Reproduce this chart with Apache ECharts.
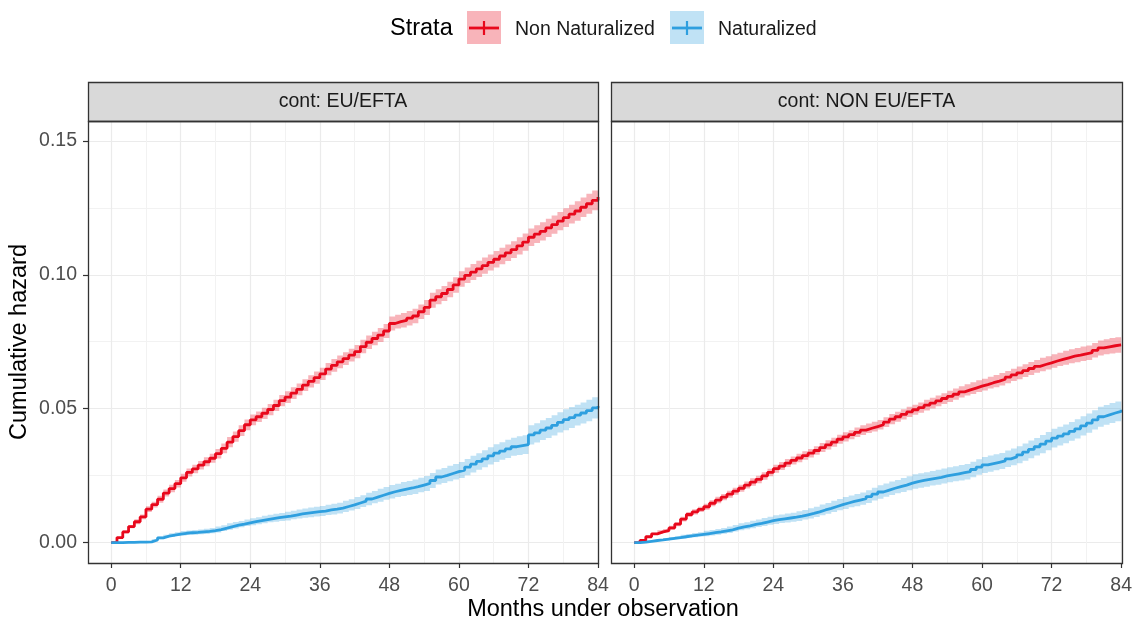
<!DOCTYPE html>
<html>
<head>
<meta charset="utf-8">
<script src="https://cdn.jsdelivr.net/npm/echarts@6/dist/echarts.min.js"></script>
<style>
  html, body { margin: 0; padding: 0; background: #ffffff; }
  #chart { width: 1135px; height: 621px; }
</style>
</head>
<body>
<div id="chart"></div>
<script>
// ---------------- DATA ----------------
const panels = ['cont: EU/EFTA', 'cont: NON EU/EFTA'];
const strata = ['Non Naturalized', 'Naturalized'];
const xTicks = [0, 12, 24, 36, 48, 60, 72, 84];
const xMinorTicks = [6, 18, 30, 42, 54, 66, 78];
const yTicks = [0, 0.05, 0.10, 0.15];
const yTickLabels = ['0.00', '0.05', '0.10', '0.15'];
const yMinorTicks = [0.025, 0.075, 0.125];

// months 0..84 (one value per month)
const months = [0, 1, 2, 3, 4, 5, 6, 7, 8, 9, 10, 11, 12, 13, 14, 15, 16, 17, 18, 19, 20, 21, 22, 23, 24,
  25, 26, 27, 28, 29, 30, 31, 32, 33, 34, 35, 36, 37, 38, 39, 40, 41, 42, 43, 44, 45, 46, 47, 48, 49, 50,
  51, 52, 53, 54, 55, 56, 57, 58, 59, 60, 61, 62, 63, 64, 65, 66, 67, 68, 69, 70, 71, 72, 73, 74, 75, 76,
  77, 78, 79, 80, 81, 82, 83, 84];

// EU/EFTA
const euNonNat = [0, 0.0019, 0.004, 0.006, 0.0078, 0.0096, 0.0125, 0.0142, 0.0162, 0.0185, 0.0202, 0.022,
  0.0242, 0.0262, 0.0275, 0.0289, 0.0302, 0.0315, 0.0332, 0.0352, 0.0375, 0.0396, 0.0418, 0.044, 0.0458,
  0.047, 0.0483, 0.0497, 0.0512, 0.053, 0.0543, 0.0558, 0.0572, 0.0588, 0.0602, 0.0616, 0.063, 0.0648,
  0.0662, 0.0675, 0.0687, 0.07, 0.0713, 0.0732, 0.0748, 0.0762, 0.0775, 0.079, 0.0818, 0.0825, 0.083,
  0.0838, 0.0846, 0.0862, 0.0878, 0.0905, 0.0918, 0.093, 0.0945, 0.0962, 0.0984, 0.0998, 0.101, 0.1022,
  0.1034, 0.1046, 0.1058, 0.107, 0.1082, 0.1094, 0.1108, 0.1122, 0.114, 0.1152, 0.1162, 0.1175, 0.1187,
  0.12, 0.1213, 0.1226, 0.1238, 0.1252, 0.1265, 0.1278, 0.129];
const euNat = [0, 0, 0.0001, 0.0001, 0.0002, 0.0002, 0.0003, 0.001, 0.0018, 0.0024, 0.0028, 0.0032, 0.0035,
  0.0037, 0.0038, 0.004, 0.0042, 0.0045, 0.0049, 0.0054, 0.006, 0.0065, 0.0069, 0.0074, 0.0078, 0.0082,
  0.0086, 0.009, 0.0093, 0.0096, 0.0099, 0.0103, 0.0107, 0.011, 0.0113, 0.0116, 0.0118, 0.0122, 0.0125,
  0.0129, 0.0135, 0.0141, 0.0148, 0.0155, 0.0163, 0.017, 0.0177, 0.0184, 0.019, 0.0195, 0.02, 0.0204,
  0.0209, 0.0215, 0.0221, 0.0232, 0.0245, 0.0251, 0.0258, 0.0265, 0.0271, 0.0282, 0.0293, 0.0303, 0.0313,
  0.0324, 0.0334, 0.0342, 0.035, 0.0358, 0.0362, 0.0366, 0.0402, 0.041, 0.042, 0.0428, 0.0438, 0.0449,
  0.0459, 0.0467, 0.0476, 0.0484, 0.0493, 0.0503, 0.051];

// NON EU/EFTA
const nonEuNonNat = [0, 0.0008, 0.0022, 0.0033, 0.004, 0.0045, 0.0055, 0.0069, 0.0088, 0.0105, 0.0115,
  0.0124, 0.0134, 0.0147, 0.0159, 0.017, 0.0181, 0.0192, 0.0203, 0.0215, 0.0226, 0.0236, 0.0249, 0.0262,
  0.0276, 0.0286, 0.0297, 0.0307, 0.0316, 0.0325, 0.0334, 0.0344, 0.0355, 0.0365, 0.0375, 0.0386, 0.0395,
  0.0403, 0.0412, 0.042, 0.0427, 0.0433, 0.044, 0.045, 0.0461, 0.047, 0.0479, 0.0488, 0.0496, 0.0504,
  0.0513, 0.0521, 0.0529, 0.0538, 0.0546, 0.0554, 0.0563, 0.057, 0.0577, 0.0584, 0.059, 0.0597, 0.0603,
  0.061, 0.0618, 0.0626, 0.0634, 0.0642, 0.065, 0.0658, 0.0665, 0.0671, 0.0678, 0.0684, 0.069, 0.0696,
  0.070, 0.0705, 0.0709, 0.0718, 0.0727, 0.0731, 0.0735, 0.0738, 0.074];
const nonEuNat = [0, 0.0002, 0.0005, 0.0008, 0.001, 0.0013, 0.0016, 0.0019, 0.0022, 0.0025, 0.0028, 0.0031,
  0.0034, 0.0037, 0.004, 0.0044, 0.0048, 0.0054, 0.0059, 0.0063, 0.0068, 0.0072, 0.0077, 0.0082, 0.0086,
  0.0089, 0.0092, 0.0095, 0.0099, 0.0104, 0.0109, 0.0115, 0.0122, 0.0128, 0.0135, 0.0142, 0.0148, 0.0154,
  0.0159, 0.0164, 0.0172, 0.0181, 0.0189, 0.0196, 0.0203, 0.0209, 0.0215, 0.0222, 0.0228, 0.0232, 0.0236,
  0.024, 0.0244, 0.0249, 0.0253, 0.0257, 0.0261, 0.0265, 0.0273, 0.0282, 0.029, 0.0295, 0.030, 0.0305,
  0.0313, 0.032, 0.0328, 0.0338, 0.0348, 0.0358, 0.0368, 0.0379, 0.039, 0.0398, 0.0406, 0.0415, 0.0425,
  0.0436, 0.0446, 0.0458, 0.047, 0.0477, 0.0484, 0.049, 0.0496];

// half-widths of the confidence ribbons, read every 2 months (0, 2, ..., 84)
const euNonNatCI = [0, 0.0006, 0.0009, 0.0011, 0.0013, 0.0014, 0.0015, 0.0016, 0.0017, 0.0018, 0.0019,
  0.002, 0.002, 0.0021, 0.0021, 0.0022, 0.0022, 0.0023, 0.0023, 0.0024, 0.0024, 0.0025, 0.0025, 0.0026,
  0.0026, 0.0027, 0.0027, 0.0028, 0.0028, 0.0029, 0.0029, 0.003, 0.003, 0.0031, 0.0031, 0.0032, 0.0033,
  0.0034, 0.0034, 0.0035, 0.0036, 0.0037, 0.0038];
const euNatCI = [0, 0, 0, 0.0003, 0.0005, 0.0007, 0.0008, 0.0009, 0.001, 0.0011, 0.0012, 0.0012, 0.0013,
  0.0014, 0.0015, 0.0016, 0.0017, 0.0018, 0.0019, 0.002, 0.0021, 0.0022, 0.0023, 0.0024, 0.0025, 0.0026,
  0.0027, 0.0028, 0.0028, 0.0029, 0.003, 0.0031, 0.0032, 0.0033, 0.0034, 0.0035, 0.0036, 0.0037, 0.0038,
  0.0039, 0.0039, 0.004, 0.004];
const nonEuNonNatCI = [0, 0.0004, 0.0006, 0.0008, 0.0009, 0.001, 0.0011, 0.0012, 0.0013, 0.0013, 0.0014,
  0.0014, 0.0015, 0.0015, 0.0016, 0.0016, 0.0017, 0.0017, 0.0017, 0.0018, 0.0018, 0.0018, 0.0019, 0.0019,
  0.0019, 0.002, 0.002, 0.0021, 0.0021, 0.0022, 0.0022, 0.0023, 0.0023, 0.0024, 0.0024, 0.0025, 0.0025,
  0.0026, 0.0027, 0.0027, 0.0028, 0.0029, 0.003];
const nonEuNatCI = [0, 0.0002, 0.0004, 0.0005, 0.0007, 0.0008, 0.001, 0.0011, 0.0012, 0.0013, 0.0014,
  0.0015, 0.0016, 0.0017, 0.0018, 0.0019, 0.002, 0.0021, 0.0022, 0.0023, 0.0024, 0.0025, 0.0025, 0.0026,
  0.0027, 0.0027, 0.0028, 0.0028, 0.0029, 0.0029, 0.003, 0.003, 0.0031, 0.0032, 0.0033, 0.0034, 0.0035,
  0.0035, 0.0036, 0.0036, 0.0037, 0.0037, 0.0038];

// ---------------- STYLE ----------------
const FONT = "'Liberation Sans', Arial, sans-serif";
const RED = '#E8081C';
const BLUE = '#2E9FDF';
const RED_FILL = 'rgba(232,8,28,0.3)';
const BLUE_FILL = 'rgba(46,159,223,0.3)';
const GRID_COL = '#EBEBEB';
const MINOR_COL = '#F2F2F2';
const TICK_TXT = '#4D4D4D';
const SMALL = 19.5, BIG = 23.5;

const panelBoxes = [
  { left: 88, top: 121, width: 510, height: 442 },
  { left: 611, top: 121, width: 511, height: 442 }
];
const X_MIN = -4, X_MAX = 84;
const Y_MIN = -0.0076, Y_MAX = 0.1574;

const chart = echarts.init(document.getElementById('chart'), null, { renderer: 'canvas' });

const grids = panelBoxes.map(b => ({ left: b.left, top: b.top, width: b.width, height: b.height, show: false, containLabel: false }));

const xAxes = [];
const yAxes = [];
panelBoxes.forEach((b, i) => {
  xAxes.push({
    type: 'value', gridIndex: i, min: X_MIN, max: X_MAX, position: 'bottom',
    axisLine: { show: false, onZero: false },
    axisTick: { show: true, length: 5, lineStyle: { color: '#333333', width: 1.2 }, customValues: xTicks },
    axisLabel: { show: true, customValues: xTicks, color: TICK_TXT, fontSize: SMALL, fontFamily: FONT, margin: 13 },
    splitLine: { show: true, lineStyle: { color: GRID_COL, width: 1.2 } }
  });
  xAxes.push({
    type: 'value', gridIndex: i, min: X_MIN, max: X_MAX, position: 'bottom',
    axisLine: { show: false, onZero: false },
    axisTick: { show: false, customValues: xMinorTicks },
    axisLabel: { show: false, customValues: xMinorTicks },
    splitLine: { show: true, lineStyle: { color: MINOR_COL, width: 1 } }
  });
  yAxes.push({
    type: 'value', gridIndex: i, min: Y_MIN, max: Y_MAX, position: 'left',
    axisLine: { show: false, onZero: false },
    axisTick: { show: i === 0, length: 5, lineStyle: { color: '#333333', width: 1.2 }, customValues: yTicks },
    axisLabel: {
      show: i === 0, customValues: yTicks, color: TICK_TXT, fontSize: SMALL, fontFamily: FONT, margin: 11,
      formatter: v => { const k = yTicks.findIndex(t => Math.abs(t - v) < 1e-9); return k >= 0 ? yTickLabels[k] : v.toFixed(2); }
    },
    splitLine: { show: true, lineStyle: { color: GRID_COL, width: 1.2 } }
  });
  yAxes.push({
    type: 'value', gridIndex: i, min: Y_MIN, max: Y_MAX, position: 'left',
    axisLine: { show: false, onZero: false },
    axisTick: { show: false, customValues: yMinorTicks },
    axisLabel: { show: false, customValues: yMinorTicks },
    splitLine: { show: true, lineStyle: { color: MINOR_COL, width: 1 } }
  });
});

// step-shaped confidence ribbon drawn through the axis scales
function bandSeries(name, vals, ci, fill, xi, yi) {
  const data = months.map((m, k) => {
    const hw = ci[Math.floor(k / 2)];
    return [m, Math.max(0, vals[k] - hw), vals[k] + hw];
  });
  return {
    name: name, type: 'custom', xAxisIndex: xi, yAxisIndex: yi, silent: true, z: 2, clip: true,
    data: data,
    encode: { x: 0, y: [1, 2] },
    renderItem: function (params, api) {
      if (params.dataIndex !== 0) return null;
      const upper = [], lower = [];
      for (let k = 0; k < data.length; k++) {
        const x0 = data[k][0];
        const x1 = k < data.length - 1 ? data[k + 1][0] : data[k][0];
        upper.push(api.coord([x0, data[k][2]]));
        upper.push(api.coord([x1, data[k][2]]));
        lower.push(api.coord([x0, data[k][1]]));
        lower.push(api.coord([x1, data[k][1]]));
      }
      const pts = upper.concat(lower.reverse());
      return { type: 'polygon', shape: { points: pts }, style: { fill: fill } };
    }
  };
}
function lineSeries(name, vals, color, xi, yi) {
  return {
    name: name, type: 'line', xAxisIndex: xi, yAxisIndex: yi, step: 'end',
    data: months.map((m, k) => [m, vals[k]]), symbol: 'none',
    lineStyle: { color: color, width: 2.8 }, itemStyle: { color: color }, z: 3
  };
}

const series = [
  bandSeries(strata[0] + ' CI', euNonNat, euNonNatCI, RED_FILL, 0, 0),
  bandSeries(strata[1] + ' CI', euNat, euNatCI, BLUE_FILL, 0, 0),
  lineSeries(strata[0], euNonNat, RED, 0, 0),
  lineSeries(strata[1], euNat, BLUE, 0, 0),
  bandSeries(strata[0] + ' CI', nonEuNonNat, nonEuNonNatCI, RED_FILL, 2, 2),
  bandSeries(strata[1] + ' CI', nonEuNat, nonEuNatCI, BLUE_FILL, 2, 2),
  lineSeries(strata[0], nonEuNonNat, RED, 2, 2),
  lineSeries(strata[1], nonEuNat, BLUE, 2, 2)
];

const graphics = [];
panelBoxes.forEach((b, i) => {
  graphics.push({
    type: 'rect', z: 100, silent: true,
    shape: { x: b.left + 0.5, y: 82.5, width: b.width, height: 39 },
    style: { fill: '#D9D9D9', stroke: '#333333', lineWidth: 1.3 }
  });
  graphics.push({
    type: 'text', z: 101, silent: true, x: b.left + b.width / 2, y: 102,
    style: { text: panels[i], fill: '#1A1A1A', font: SMALL + "px " + FONT, align: 'center', verticalAlign: 'middle' }
  });
  graphics.push({
    type: 'rect', z: 100, silent: true,
    shape: { x: b.left + 0.5, y: b.top + 0.5, width: b.width, height: b.height },
    style: { fill: 'none', stroke: '#333333', lineWidth: 1.3 }
  });
});
graphics.push({
  type: 'text', silent: true, x: 603, y: 610,
  style: { text: 'Months under observation', fill: '#000000', font: BIG + "px " + FONT, align: 'center', verticalAlign: 'middle' }
});
graphics.push({
  type: 'text', silent: true, x: 20, y: 342, rotation: Math.PI / 2,
  style: { text: 'Cumulative hazard', fill: '#000000', font: BIG + "px " + FONT, align: 'center', verticalAlign: 'middle' }
});
graphics.push({
  type: 'text', silent: true, x: 390, y: 29,
  style: { text: 'Strata', fill: '#000000', font: BIG + "px " + FONT, align: 'left', verticalAlign: 'middle' }
});
const legendItems = [
  { key: 467, text: 515, color: RED, fill: RED_FILL, label: strata[0] },
  { key: 670, text: 718, color: BLUE, fill: BLUE_FILL, label: strata[1] }
];
legendItems.forEach(it => {
  graphics.push({ type: 'rect', silent: true, shape: { x: it.key, y: 11, width: 34, height: 33 }, style: { fill: it.fill } });
  graphics.push({ type: 'line', silent: true, shape: { x1: it.key + 2, y1: 28, x2: it.key + 32, y2: 28 }, style: { stroke: it.color, lineWidth: 2.8 } });
  graphics.push({ type: 'line', silent: true, shape: { x1: it.key + 17, y1: 21, x2: it.key + 17, y2: 35 }, style: { stroke: it.color, lineWidth: 2.2 } });
  graphics.push({
    type: 'text', silent: true, x: it.text, y: 30,
    style: { text: it.label, fill: '#1A1A1A', font: SMALL + "px " + FONT, align: 'left', verticalAlign: 'middle' }
  });
});

chart.setOption({
  animation: false,
  backgroundColor: '#ffffff',
  textStyle: { fontFamily: FONT },
  grid: grids,
  xAxis: xAxes,
  yAxis: yAxes,
  series: series,
  graphic: { elements: graphics }
});
</script>
</body>
</html>
